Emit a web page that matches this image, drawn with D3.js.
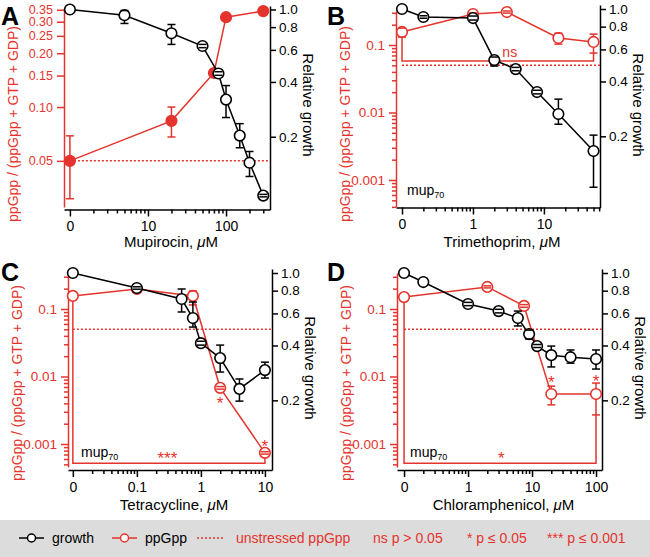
<!DOCTYPE html>
<html><head><meta charset="utf-8">
<script src="https://cdn.jsdelivr.net/npm/d3@7"></script>
<style>body{margin:0;background:#fff}svg{display:block}</style>
</head><body><svg id="c" width="650" height="557"></svg>
<script>
// ---------------- DATA ----------------
// Panel A – Mupirocin
const mupGrowthX  = [0, 5, 20, 50, 80, 100, 150, 200, 300];
const mupGrowth   = [1.0, 0.93, 0.74, 0.63, 0.445, 0.32, 0.203, 0.144, 0.095];
const mupGrowthLo = [null, 0.838, 0.643, 0.617, 0.435, 0.255, 0.174, 0.121, 0.0935];
const mupGrowthHi = [null, 0.987, 0.827, 0.643, 0.455, 0.382, 0.236, 0.166, 0.0965];
const mupPpgppX   = [0, 20, 70, 100, 300];
const mupPpgpp    = [0.05, 0.0837, 0.155, 0.318, 0.344];
const mupPpgppLo  = [0.0307, 0.068, null, null, null];
const mupPpgppHi  = [0.069, 0.100, null, null, null];
const mupTicks = [0, 10, 100];
const mupTickLabels = ["0", "10", "100"];
const mupPpgppTicks = [0.05, 0.10, 0.15, 0.20, 0.25, 0.30, 0.35];

// Panel B – Trimethoprim
const tmpGrowthX  = [0, 0.2, 1, 2, 4, 8, 16, 50];
const tmpGrowth   = [1.0, 0.904, 0.892, 0.524, 0.468, 0.35, 0.265, 0.166];
const tmpGrowthLo = [null, 0.89, 0.87, 0.486, 0.458, 0.342, 0.233, 0.105];
const tmpGrowthHi = [null, 0.918, 0.915, 0.545, 0.478, 0.358, 0.32, 0.203];
const tmpPpgppX   = [0, 1, 3, 16, 50];
const tmpPpgpp    = [0.156, 0.288, 0.308, 0.127, 0.111];
const tmpPpgppLo  = [0.131, 0.278, 0.297, 0.103, 0.076];
const tmpPpgppHi  = [0.178, 0.298, 0.319, 0.150, 0.145];
const tmpTicks = [0, 1, 10];
const tmpTickLabels = ["0", "1", "10"];

// Panel C – Tetracycline
const tetGrowthX  = [0, 0.1, 0.5, 0.75, 1, 2, 4, 10];
const tetGrowth   = [1.0, 0.827, 0.72, 0.566, 0.412, 0.341, 0.231, 0.293];
const tetGrowthLo = [null, 0.815, 0.611, 0.505, 0.402, 0.286, 0.198, 0.265];
const tetGrowthHi = [null, 0.84, 0.817, 0.693, 0.422, 0.402, 0.262, 0.324];
const tetPpgppX   = [0, 0.1, 0.75, 2, 10];
const tetPpgpp    = [0.156, 0.198, 0.156, 0.0068, 0.00074];
const tetPpgppLo  = [null, 0.19, 0.115, 0.0065, 0.00071];
const tetPpgppHi  = [null, 0.206, 0.185, 0.0071, 0.00077];
const tetTicks = [0, 0.1, 1, 10];
const tetTickLabels = ["0", "0.1", "1", "10"];

// Panel D – Chloramphenicol
const chlGrowthX  = [0, 0.2, 1, 3, 6, 9, 12, 20, 40, 100];
const chlGrowth   = [1.0, 0.892, 0.676, 0.618, 0.566, 0.462, 0.397, 0.354, 0.345, 0.337];
const chlGrowthLo = [null, null, 0.662, 0.604, 0.512, 0.434, 0.39, 0.305, 0.32, 0.297];
const chlGrowthHi = [null, null, 0.69, 0.632, 0.618, 0.486, 0.405, 0.397, 0.378, 0.378];
const chlPpgppX   = [0, 2, 7.5, 20, 100];
const chlPpgpp    = [0.15, 0.212, 0.111, 0.0055, 0.0055];
const chlPpgppLo  = [null, 0.205, 0.106, 0.0038, 0.0027];
const chlPpgppHi  = [null, 0.22, 0.116, 0.0072, 0.0080];
const chlTicks = [0, 1, 10, 100];
const chlTickLabels = ["0", "1", "10", "100"];

const logPpgppTicks = [0.1, 0.01, 0.001];
const logPpgppLabels = ["0.1", "0.01", "0.001"];
const growthTicks = [0.2, 0.4, 0.6, 0.8, 1.0];
const unstressedPpgpp = 0.05;

// significance annotations
const tmpSig = {from: 0, to: 50, level: 0.058, label: "ns", labelX: 3.3};
const tetSig = {from: 0, to: 10, level: 0.00052, label: "***", labelX: 0.3};
const chlSig = {from: 0, to: 100, level: 0.00052, label: "*", labelX: 3.3};
const tetStarX = [2, 10];
const tetStarY = [0.0045, 0.00107];
const chlStarX = [20, 100];
const chlStarY = [0.0092, 0.0098];

// ---------------- DRAWING ----------------
const RED = "#e4342d";
const FONT = '"Liberation Sans", Arial, Helvetica, sans-serif';
const svg = d3.select("#c").attr("font-family", FONT);

const panels = [
  {letter: "A", drug: "Mupirocin, ",
   gx: mupGrowthX, g: mupGrowth, gLo: mupGrowthLo, gHi: mupGrowthHi,
   px: mupPpgppX, p: mupPpgpp, pLo: mupPpgppLo, pHi: mupPpgppHi, filled: true,
   xTicks: mupTicks, xLabels: mupTickLabels, zeroAt: 1, xDomain: [0.84, 366],
   lTicks: mupPpgppTicks, lLabels: mupPpgppTicks.map(d3.format(".2f")), lMinor: [], lFont: 12.5,
   lDomain: [0.0276, 0.358], rDomain: [0.0797, 1.045],
   L: {left: 64, right: 270, bottom: 209.5, lTop: 8, lBottom: 207, rTop: 6,
       letterX: 1, letterY: 25, titleY: 247, lMid: 124, rMid: 105}},
  {letter: "B", drug: "Trimethoprim, ",
   gx: tmpGrowthX, g: tmpGrowth, gLo: tmpGrowthLo, gHi: tmpGrowthHi,
   px: tmpPpgppX, p: tmpPpgpp, pLo: tmpPpgppLo, pHi: tmpPpgppHi, filled: false,
   xTicks: tmpTicks, xLabels: tmpTickLabels, zeroAt: 0.1, xDomain: [0.0823, 61.7],
   lTicks: logPpgppTicks, lLabels: logPpgppLabels, lMinor: null, lFont: 13.5,
   lDomain: [0.000398, 0.319], rDomain: [0.0813, 1.052],
   sig: tmpSig, mup: [407, 195],
   L: {left: 396, right: 600, bottom: 207.5, lTop: 11, lBottom: 207, rTop: 5,
       letterX: 327, letterY: 25, titleY: 247, lMid: 124, rMid: 105}},
  {letter: "C", drug: "Tetracycline, ",
   gx: tetGrowthX, g: tetGrowth, gLo: tetGrowthLo, gHi: tetGrowthHi,
   px: tetPpgppX, p: tetPpgpp, pLo: tetPpgppLo, pHi: tetPpgppHi, filled: false,
   xTicks: tetTicks, xLabels: tetTickLabels, zeroAt: 0.01, xDomain: [0.0084, 12.9],
   lTicks: logPpgppTicks, lLabels: logPpgppLabels, lMinor: null, lFont: 13.5,
   lDomain: [0.000457, 0.341], rDomain: [0.0829, 1.052],
   sig: tetSig, starX: tetStarX, starY: tetStarY, mup: [81, 457],
   L: {left: 68, right: 272, bottom: 470, lTop: 273, lBottom: 467, rTop: 269,
       letterX: 1, letterY: 281, titleY: 510, lMid: 383, rMid: 368}},
  {letter: "D", drug: "Chloramphenicol, ",
   gx: chlGrowthX, g: chlGrowth, gLo: chlGrowthLo, gHi: chlGrowthHi,
   px: chlPpgppX, p: chlPpgpp, pLo: chlPpgppLo, pHi: chlPpgppHi, filled: false,
   xTicks: chlTicks, xLabels: chlTickLabels, zeroAt: 0.1, xDomain: [0.0776, 124],
   lTicks: logPpgppTicks, lLabels: logPpgppLabels, lMinor: null, lFont: 13.5,
   lDomain: [0.000457, 0.341], rDomain: [0.0829, 1.052],
   sig: chlSig, starX: chlStarX, starY: chlStarY, mup: [410, 457],
   L: {left: 397, right: 602, bottom: 470, lTop: 273, lBottom: 467, rTop: 269,
       letterX: 327, letterY: 281, titleY: 510, lMid: 383, rMid: 368}}
];

function minorLog(lo, hi, skip) {
  const out = [];
  for (let e = -5; e <= 4; e++) for (let k = 1; k <= 9; k++) {
    const v = +(k * Math.pow(10, e)).toPrecision(6);
    if (v >= lo && v <= hi && !skip.some(s => Math.abs(s - v) / v < 1e-6)) out.push(v);
  }
  return out;
}

function styleAxis(sel, color, fs) {
  sel.attr("color", color).attr("font-family", FONT).attr("font-size", fs);
  sel.selectAll("path,line").attr("stroke-width", 1.5);
}

function drawPanel(c) {
  const L = c.L;
  const g = svg.append("g");
  const x = d3.scaleLog().domain(c.xDomain).range([L.left, L.right]);
  const X = v => x(v === 0 ? c.zeroAt : v);
  const yL = d3.scaleLog().domain(c.lDomain).range([L.lBottom, L.lTop]);
  const yR = d3.scaleLog().domain(c.rDomain).range([L.bottom, L.rTop]);
  const R = 5.3;

  // ---- axes ----
  const xMajor = c.xTicks.map(v => v === 0 ? c.zeroAt : v);
  const xMinor = minorLog(c.zeroAt, c.xDomain[1], xMajor);
  g.append("g").attr("transform", `translate(0,${L.bottom})`)
    .call(d3.axisBottom(x).tickValues(xMinor).tickSize(4).tickFormat("").tickSizeOuter(0))
    .call(s => { styleAxis(s, "#000", 14); s.select(".domain").remove(); });
  g.append("g").attr("transform", `translate(0,${L.bottom})`)
    .call(d3.axisBottom(x).tickValues(xMajor).tickSize(7).tickPadding(5).tickSizeOuter(0)
      .tickFormat((d, i) => c.xLabels[i]))
    .call(s => styleAxis(s, "#000", 14));
  const tt = g.append("text").attr("x", (L.left + L.right) / 2 + 4).attr("y", L.titleY)
    .attr("text-anchor", "middle").attr("font-size", 15);
  tt.append("tspan").text(c.drug);
  tt.append("tspan").attr("font-style", "italic").text("\u03bc");
  tt.append("tspan").text("M");

  // left (ppGpp) axis
  const lMinor = c.lMinor ? c.lMinor : minorLog(c.lDomain[0], c.lDomain[1], c.lTicks);
  if (lMinor.length) g.append("g").attr("transform", `translate(${L.left},0)`)
    .call(d3.axisLeft(yL).tickValues(lMinor).tickSize(4).tickFormat("").tickSizeOuter(0))
    .call(s => { styleAxis(s, RED, 13); s.select(".domain").remove(); });
  g.append("g").attr("transform", `translate(${L.left},0)`)
    .call(d3.axisLeft(yL).tickValues(c.lTicks).tickSize(7).tickPadding(4).tickSizeOuter(0)
      .tickFormat((d, i) => c.lLabels[i]))
    .call(s => styleAxis(s, RED, c.lFont));
  g.append("text")
    .attr("transform", `translate(${L.left - 51},${L.lMid}) rotate(-90)`)
    .attr("text-anchor", "middle").attr("dominant-baseline", "central")
    .attr("font-size", 14).attr("fill", RED).text("ppGpp / (ppGpp + GTP + GDP)");

  // right (growth) axis
  g.append("g").attr("transform", `translate(${L.right},0)`)
    .call(d3.axisRight(yR).tickValues(growthTicks).tickSize(6).tickPadding(3).tickSizeOuter(0)
      .tickFormat(d3.format(".1f")))
    .call(s => styleAxis(s, "#000", 13.5));
  g.append("text")
    .attr("transform", `translate(${L.right + 38},${L.rMid}) rotate(90)`)
    .attr("text-anchor", "middle").attr("dominant-baseline", "central")
    .attr("font-size", 15).text("Relative growth");

  // panel letter
  g.append("text").attr("x", L.letterX).attr("y", L.letterY)
    .attr("font-size", 25).attr("font-weight", "bold").text(c.letter);

  // unstressed ppGpp reference
  g.append("line").attr("x1", X(0)).attr("x2", L.right)
    .attr("y1", yL(unstressedPpgpp)).attr("y2", yL(unstressedPpgpp))
    .attr("stroke", RED).attr("stroke-width", 1.5).attr("stroke-dasharray", "2,2");

  // significance bracket
  if (c.sig) {
    const iF = c.px.indexOf(c.sig.from), iT = c.px.indexOf(c.sig.to);
    const startY = i => c.pLo[i] != null ? yL(c.pLo[i]) : yL(c.p[i]) + R;
    const ly = yL(c.sig.level);
    g.append("path")
      .attr("d", d3.line()([[X(c.sig.from), startY(iF)], [X(c.sig.from), ly], [X(c.sig.to), ly], [X(c.sig.to), startY(iT)]]))
      .attr("fill", "none").attr("stroke", RED).attr("stroke-width", 1.5);
    if (c.sig.label === "ns") {
      g.append("text").attr("x", X(c.sig.labelX)).attr("y", ly - 4).attr("text-anchor", "middle")
        .attr("font-size", 14).attr("fill", RED).text("ns");
    } else {
      g.append("text").attr("x", X(c.sig.labelX)).attr("y", ly + 0.5).attr("text-anchor", "middle")
        .attr("font-size", 17).attr("fill", RED).text(c.sig.label);
    }
  }
  if (c.starX) {
    c.starX.forEach((sx, i) => {
      g.append("text").attr("x", X(sx)).attr("y", yL(c.starY[i]) + 9.5).attr("text-anchor", "middle")
        .attr("font-size", 17).attr("fill", RED).text("*");
    });
  }
  if (c.mup) {
    const t = g.append("text").attr("x", c.mup[0]).attr("y", c.mup[1]).attr("font-size", 14);
    t.append("tspan").text("mup");
    t.append("tspan").attr("font-size", 9).attr("dy", 3).text("70");
  }

  // series drawer
  function series(xs, ys, lo, hi, yS, color, filled) {
    const pts = xs.map((v, i) => ({x: X(v), y: yS(ys[i]), lo: lo[i], hi: hi[i]}));
    g.append("path").attr("d", d3.line().x(d => d.x).y(d => d.y)(pts))
      .attr("fill", "none").attr("stroke", color).attr("stroke-width", 1.5);
    const eb = pts.filter(d => d.lo != null);
    g.selectAll(null).data(eb).enter().append("line")
      .attr("x1", d => d.x).attr("x2", d => d.x)
      .attr("y1", d => yS(d.lo)).attr("y2", d => yS(d.hi))
      .attr("stroke", color).attr("stroke-width", 1.5);
    g.selectAll(null).data(pts).enter().append("circle")
      .attr("cx", d => d.x).attr("cy", d => d.y).attr("r", R)
      .attr("fill", filled ? color : "#fff").attr("stroke", color).attr("stroke-width", 1.6);
    eb.forEach(d => {
      [d.lo, d.hi].forEach(v => {
        g.append("line").attr("x1", d.x - 4).attr("x2", d.x + 4)
          .attr("y1", yS(v)).attr("y2", yS(v))
          .attr("stroke", color).attr("stroke-width", 1.5);
      });
    });
  }
  series(c.px, c.p, c.pLo, c.pHi, yL, RED, c.filled);
  series(c.gx, c.g, c.gLo, c.gHi, yR, "#000", false);
}

panels.forEach(drawPanel);

// ---------------- LEGEND ----------------
const leg = svg.append("g");
leg.append("rect").attr("x", 0).attr("y", 520).attr("width", 650).attr("height", 37).attr("fill", "#dcdcdc");
const LY = 538;
function legMarker(x1, x2, color) {
  leg.append("line").attr("x1", x1).attr("x2", x2).attr("y1", LY).attr("y2", LY)
    .attr("stroke", color).attr("stroke-width", 1.5);
  leg.append("circle").attr("cx", (x1 + x2) / 2).attr("cy", LY).attr("r", 4)
    .attr("fill", "#fff").attr("stroke", color).attr("stroke-width", 1.5);
}
function legText(x, str, color) {
  leg.append("text").attr("x", x).attr("y", LY + 5).attr("font-size", 14)
    .attr("fill", color).text(str);
}
legMarker(19, 44, "#000");
legText(52, "growth", "#000");
legMarker(112, 137, RED);
legText(145, "ppGpp", "#000");
leg.append("line").attr("x1", 197).attr("x2", 225).attr("y1", LY).attr("y2", LY)
  .attr("stroke", RED).attr("stroke-width", 1.5).attr("stroke-dasharray", "2,2");
legText(236, "unstressed ppGpp", RED);
legText(373, "ns p > 0.05", RED);
legText(467, "* p \u2264 0.05", RED);
legText(547, "*** p \u2264 0.001", RED);
</script>
</body></html>
